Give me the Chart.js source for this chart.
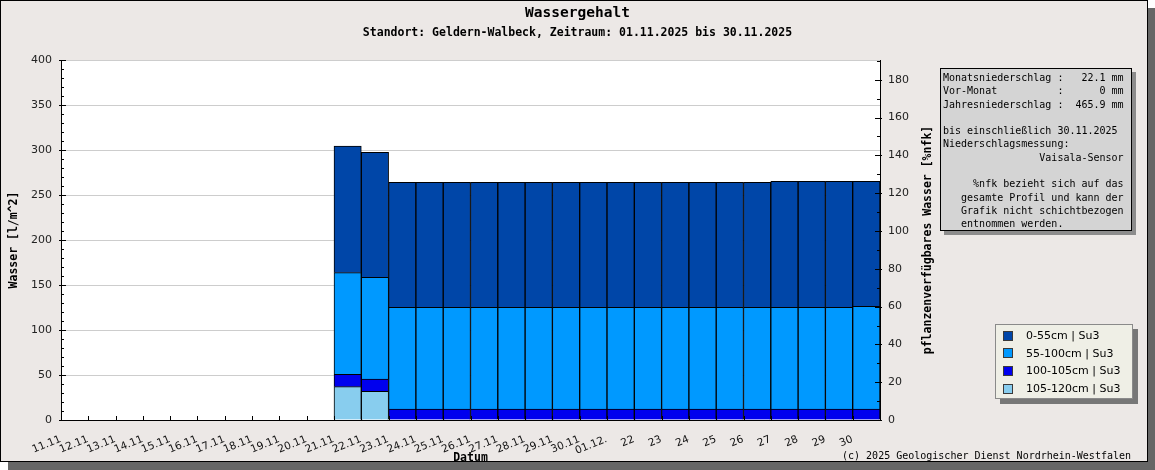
<!DOCTYPE html>
<html lang="de">
<head>
<meta charset="utf-8">
<title>Wassergehalt</title>
<script src="https://cdn.jsdelivr.net/npm/chart.js@4.4.1/dist/chart.umd.min.js"></script>
<style>
    html, body { margin: 0; padding: 0; background: #fff; }
    #wrap { position: relative; width: 1155px; height: 470px; overflow: hidden; }
    #frame { position: absolute; left: 0; top: 0; width: 1146px; height: 460px; border: 1px solid #000;
             background: #ece8e6; box-shadow: 8px 8px 0 #666; }
    #graph { position: absolute; left: 0; top: 0; }
    #info { position: absolute; left: 940px; top: 68px; width: 192px; height: 163px; box-sizing: border-box;
            border: 1px solid #000; background: #d4d4d4; box-shadow: 4px 4px 0 #8c8c8c;
            font: 10px/13.3px "DejaVu Sans Mono", monospace; color: #000; white-space: pre; padding: 2px 0 0 2px; }
    #legend { position: absolute; left: 995px; top: 324px; width: 138px; height: 75px; box-sizing: border-box;
              border: 1px solid #8a8a8a; background: #efefe6; box-shadow: 5px 5px 0 #777; padding-top: 2px; }
    #legend .row { height: 17.6px; display: flex; align-items: center; font: 11px "DejaVu Sans", sans-serif; color: #000; }
    #legend .box { width: 10px; height: 10px; box-sizing: border-box; border: 1px solid #3a3a3a; margin: 0 13px 0 7px; }
    #copy { position: absolute; right: 24px; top: 450px; font: 10px "DejaVu Sans Mono", monospace; color: #000; }
</style>
</head>
<body>
<div id="wrap">
    <div id="frame"></div>
    <canvas id="graph" width="1155" height="470"></canvas>
    <div id="info"></div>
    <div id="legend"></div>
    <div id="copy">(c) 2025 Geologischer Dienst Nordrhein-Westfalen</div>
</div>
<script>
//--- Daten
var labels = ['11.11', '12.11', '13.11', '14.11', '15.11', '16.11', '17.11', '18.11', '19.11', '20.11',
              '21.11', '22.11', '23.11', '24.11', '25.11', '26.11', '27.11', '28.11', '29.11', '30.11',
              '01.12.', '22', '23', '24', '25', '26', '27', '28', '29', '30'];

var s0_55 = [null, null, null, null, null, null, null, null, null, null,
             140.7, 138.9, 138.9, 138.9, 138.9, 138.9, 138.9, 138.9, 138.9, 138.9,
             138.9, 138.9, 138.9, 138.9, 138.9, 138.9, 140.0, 140.0, 140.0, 138.9];
var s55_100 = [null, null, null, null, null, null, null, null, null, null,
               113.0, 112.9, 113.0, 113.0, 113.0, 113.0, 113.0, 113.0, 113.0, 113.0,
               113.0, 113.0, 113.0, 113.0, 113.0, 113.0, 113.0, 113.0, 113.0, 114.1];
var s100_105 = [null, null, null, null, null, null, null, null, null, null,
                13.7, 13.7, 12.2, 12.2, 12.2, 12.2, 12.2, 12.2, 12.2, 12.2,
                12.2, 12.2, 12.2, 12.2, 12.2, 12.2, 12.2, 12.2, 12.2, 12.2];
var s105_120 = [null, null, null, null, null, null, null, null, null, null,
                37.0, 31.9, 0, 0, 0, 0, 0, 0, 0, 0,
                0, 0, 0, 0, 0, 0, 0, 0, 0, 0];

var layerNames = ['0-55cm | Su3', '55-100cm | Su3', '100-105cm | Su3', '105-120cm | Su3'];
var layerColors = ['#0046a8', '#0099ff', '#0000ee', '#88cdee'];

var nfkTotal = 210;          // 100 %nfk in l/m^2
var leftMax = 400;
var leftTicks = 50;
var rightTicks = 20;

var titleText = 'Wassergehalt';
var subTitleText = 'Standort: Geldern-Walbeck, Zeitraum: 01.11.2025 bis 30.11.2025';
var leftAxisTitle = 'Wasser [l/m^2]';
var rightAxisTitle = 'pflanzenverfügbares Wasser [%nfk]';
var xAxisTitle = 'Datum';

var infoLines = [
    'Monatsniederschlag :   22.1 mm',
    'Vor-Monat          :      0 mm',
    'Jahresniederschlag :  465.9 mm',
    '',
    'bis einschließlich 30.11.2025',
    'Niederschlagsmessung:',
    '                Vaisala-Sensor',
    '',
    '     %nfk bezieht sich auf das',
    '   gesamte Profil und kann der',
    '   Grafik nicht schichtbezogen',
    '   entnommen werden.'
];

var monoBold = function (size) {
    return { family: 'DejaVu Sans Mono', size: size, weight: 'bold' };
};

//--- Plugins
var plotBackground = {
    id: 'plotBackground',
    beforeDraw: function (chart) {
        var a = chart.chartArea, ctx = chart.ctx;
        ctx.save();
        ctx.fillStyle = '#fff';
        ctx.fillRect(a.left, a.top, a.right - a.left, a.bottom - a.top);
        ctx.restore();
    }
};

// kleine Striche nach innen, wie im Original
var innerTicks = {
    id: 'innerTicks',
    afterDatasetsDraw: function (chart) {
        var ctx = chart.ctx, a = chart.chartArea;
        var y = chart.scales.y, y2 = chart.scales.y2, x = chart.scales.x;
        var v, py;
        ctx.save();
        ctx.strokeStyle = '#000';
        ctx.lineWidth = 1;
        ctx.beginPath();
        for (v = 0; v <= leftMax; v += 10) {
            py = Math.round(y.getPixelForValue(v)) + 0.5;
            ctx.moveTo(a.left - (v % leftTicks === 0 ? 2 : 0), py);
            ctx.lineTo(a.left + (v % leftTicks === 0 ? 5 : 3), py);
        }
        for (v = 0; v <= y2.max; v += 10) {
            py = Math.round(y2.getPixelForValue(v)) + 0.5;
            ctx.moveTo(a.right - (v % rightTicks === 0 ? 5 : 3), py);
            ctx.lineTo(a.right + (v % rightTicks === 0 ? 2 : 0), py);
        }
        var half = (x.getPixelForValue(1) - x.getPixelForValue(0)) / 2;
        for (var i = 1; i < labels.length; i++) {
            var px = Math.round(x.getPixelForValue(i) - half) + 0.5;
            ctx.moveTo(px, a.bottom);
            ctx.lineTo(px, a.bottom - 4);
        }
        ctx.stroke();
        ctx.restore();
    }
};

var rightTitle = {
    id: 'rightTitle',
    afterDraw: function (chart) {
        var ctx = chart.ctx, a = chart.chartArea;
        ctx.save();
        ctx.translate(chart.scales.y2.left + 48, (a.top + a.bottom) / 2);
        ctx.rotate(-Math.PI / 2);
        ctx.font = 'bold 11.5px "DejaVu Sans Mono"';
        ctx.fillStyle = '#000';
        ctx.textAlign = 'center';
        ctx.textBaseline = 'middle';
        ctx.fillText(rightAxisTitle, 0, 0);
        ctx.restore();
    }
};

//--- Chart
var series = [s0_55, s55_100, s100_105, s105_120];
var datasets = [];
for (var k = series.length - 1; k >= 0; k--) {
    datasets.push({
        label: layerNames[k],
        data: series[k],
        backgroundColor: layerColors[k],
        borderColor: '#000',
        borderWidth: 1,
        barPercentage: 1,
        categoryPercentage: 1,
        stack: 'profil',
        yAxisID: 'y'
    });
}

var chart = new Chart(document.getElementById('graph'), {
    type: 'bar',
    data: { labels: labels, datasets: datasets },
    options: {
        responsive: false,
        animation: false,
        layout: { padding: 0 },
        plugins: {
            legend: { display: false },
            tooltip: { enabled: false },
            title: {
                display: true, text: titleText, color: '#000',
                font: monoBold(14.5), padding: { top: 5, bottom: 2 }
            },
            subtitle: {
                display: true, text: subTitleText, color: '#000',
                font: monoBold(11.5), padding: { top: 2, bottom: 19.8 }
            }
        },
        scales: {
            x: {
                stacked: true,
                grid: { display: false },
                border: { display: true, color: '#000', width: 1 },
                ticks: {
                    autoSkip: false, minRotation: 22, maxRotation: 22,
                    labelOffset: -14, padding: 5, color: '#111',
                    font: { family: '"Liberation Sans Narrow", "DejaVu Sans"', size: 10.5 }
                },
                title: {
                    display: true, text: xAxisTitle, color: '#000',
                    font: monoBold(11.5), padding: { top: 0, bottom: 5 }
                },
                afterFit: function (scale) { scale.height = 50; }
            },
            y: {
                position: 'left',
                stacked: true,
                min: 0, max: leftMax,
                ticks: { stepSize: leftTicks, padding: 9, color: '#222', font: { family: 'DejaVu Sans', size: 11 } },
                grid: { color: '#cdcdcd', drawTicks: false },
                border: { display: true, color: '#000', width: 1 },
                title: {
                    display: true, text: leftAxisTitle, color: '#000',
                    font: monoBold(11.5), padding: { top: 7, bottom: 0 }
                },
                afterFit: function (scale) { scale.width = 61; }
            },
            y2: {
                position: 'right',
                min: 0, max: leftMax / nfkTotal * 100,
                ticks: { stepSize: rightTicks, includeBounds: false, padding: 8, color: '#222', font: { family: 'DejaVu Sans', size: 11 } },
                grid: { display: false, drawTicks: false },
                border: { display: true, color: '#000', width: 1 },
                afterFit: function (scale) { scale.width = 275; }
            }
        }
    },
    plugins: [plotBackground, innerTicks, rightTitle]
});

//--- Info-Box und Legende
document.getElementById('info').textContent = infoLines.join('\n');

var legendHtml = '';
for (var j = 0; j < layerNames.length; j++) {
    legendHtml += '<div class="row"><span class="box" style="background:' + layerColors[j] + '"></span>' + layerNames[j] + '</div>';
}
document.getElementById('legend').innerHTML = legendHtml;
console.log('chart ready', chart.chartArea);
</script>
</body>
</html>
